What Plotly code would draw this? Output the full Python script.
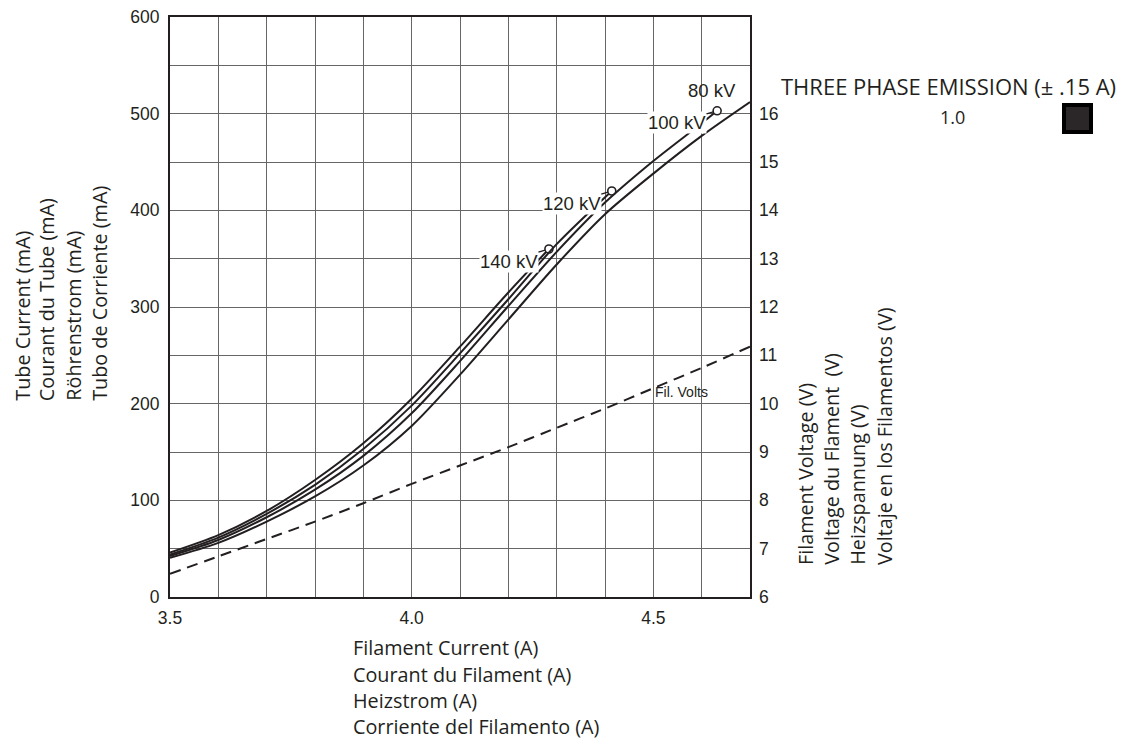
import plotly.graph_objects as go

# ---- data ----
x_140 = [3.5, 3.6, 3.7, 3.8, 3.9, 4.0, 4.1, 4.2, 4.284]
ma_140 = [46, 64, 89, 121, 159, 205, 259, 315, 360]

x_120 = [3.5, 3.6, 3.7, 3.8, 3.9, 4.0, 4.1, 4.2, 4.3, 4.414]
ma_120 = [44, 61.5, 86, 116, 153, 198, 252, 308, 365, 420]

x_100 = [3.5, 3.6, 3.7, 3.8, 3.9, 4.0, 4.1, 4.2, 4.3, 4.4, 4.5, 4.6, 4.632]
ma_100 = [42.5, 59, 82.5, 111, 146, 190, 244, 301, 357, 408, 451, 490, 503]

x_80 = [3.5, 3.6, 3.7, 3.8, 3.9, 4.0, 4.1, 4.2, 4.3, 4.4, 4.5, 4.6, 4.7]
ma_80 = [40.5, 56, 78, 104, 136, 177, 230, 287, 344, 396, 438, 477, 512]

x_volts = [3.5, 3.6, 3.7, 3.8, 3.9, 4.0, 4.1, 4.2, 4.3, 4.4, 4.5, 4.6, 4.7]
fil_volts = [6.48, 6.84, 7.2, 7.56, 7.94, 8.34, 8.72, 9.1, 9.5, 9.9, 10.32, 10.74, 11.18]

x_ticks = [3.5, 4.0, 4.5]
x_tick_text = ["3.5", "4.0", "4.5"]
y_ticks = [0, 100, 200, 300, 400, 500, 600]
y2_ticks = [6, 7, 8, 9, 10, 11, 12, 13, 14, 15, 16]

left_title = ["Tube Current (mA)", "Courant du Tube (mA)", "Röhrenstrom (mA)", "Tubo de Corriente (mA)"]
right_title = ["Filament Voltage (V)", "Voltage du Flament \u00a0(V)", "Heizspannung (V)", "Voltaje en los Filamentos (V)"]
bottom_title = ["Filament Current (A)", "Courant du Filament (A)", "Heizstrom (A)", "Corriente del Filamento (A)"]

INK = "#231f20"
GRID = "#666666"
TITLE_FONT = "Open Sans"
TICK_FONT = "Liberation Sans, Arial"
TITLE_SIZE = 19.8
TICK_SIZE = 17.5

fig = go.Figure()

curves = [(x_140, ma_140, True), (x_120, ma_120, True), (x_100, ma_100, True), (x_80, ma_80, False)]
for xs, ys, end_marker in curves:
    fig.add_trace(go.Scatter(x=xs, y=ys, mode="lines", line=dict(color=INK, width=2, shape="spline", smoothing=0.8),
                             showlegend=False, hoverinfo="skip"))
    if end_marker:
        fig.add_trace(go.Scatter(x=[xs[-1]], y=[ys[-1]], mode="markers",
                                 marker=dict(symbol="circle", size=8, color="white", line=dict(color=INK, width=1.6)),
                                 showlegend=False, hoverinfo="skip"))

fig.add_trace(go.Scatter(x=x_volts, y=fil_volts, yaxis="y2", mode="lines",
                         line=dict(color=INK, width=2, dash="11px,7px", shape="spline", smoothing=0.8),
                         showlegend=False, hoverinfo="skip"))

annotations = []
# kV labels with leader lines to end-circles
for txt, xs, ys in [("140 kV", x_140, ma_140), ("120 kV", x_120, ma_120), ("100 kV", x_100, ma_100)]:
    annotations.append(dict(x=xs[-1], y=ys[-1], xref="x", yref="y", text=txt, showarrow=True,
                            arrowhead=0, arrowwidth=1.2, arrowcolor=INK, ax=-40, ay=12, standoff=4,
                            bgcolor="white", borderpad=0,
                            font=dict(family=TICK_FONT, size=18.5, color=INK)))
annotations.append(dict(x=4.621, y=524, xref="x", yref="y", text="80 kV", showarrow=False,
                        font=dict(family=TICK_FONT, size=18.5, color=INK)))
annotations.append(dict(x=4.499, y=10.24, xref="x", yref="y2", text="Fil. Volts", showarrow=False,
                        xanchor="left", font=dict(family=TICK_FONT, size=14, color=INK)))

# axis titles as rotated stacked lines
left_x = [21.7, 46.7, 72.7, 99.3]
for t, px in zip(left_title, left_x):
    annotations.append(dict(x=(px - 170) / 580, y=(597 - 403) / 580, xref="paper", yref="paper", text=t,
                            textangle=-90, showarrow=False, xanchor="center", yanchor="bottom",
                            font=dict(family=TITLE_FONT, size=TITLE_SIZE, color=INK)))
right_x = [805, 830.7, 857.3, 884]
for t, px in zip(right_title, right_x):
    annotations.append(dict(x=(px - 170) / 580, y=(597 - 567) / 580, xref="paper", yref="paper", text=t,
                            textangle=-90, showarrow=False, xanchor="center", yanchor="bottom",
                            font=dict(family=TITLE_FONT, size=TITLE_SIZE, color=INK)))
bottom_y = [647, 674, 700.5, 727]
for t, py in zip(bottom_title, bottom_y):
    annotations.append(dict(x=(351 - 170) / 580, y=(597 - py) / 580, xref="paper", yref="paper", text=t,
                            showarrow=False, xanchor="left", yanchor="middle",
                            font=dict(family=TITLE_FONT, size=TITLE_SIZE, color=INK)))

# emission key
annotations.append(dict(x=(948 - 170) / 580, y=(597 - 86) / 580, xref="paper", yref="paper",
                        text="THREE PHASE EMISSION (± .15 A)", showarrow=False, xanchor="center", yanchor="middle",
                        font=dict(family=TITLE_FONT, size=22, color=INK)))
annotations.append(dict(x=(952.5 - 170) / 580, y=(597 - 117.5) / 580, xref="paper", yref="paper",
                        text="1.0", showarrow=False, xanchor="center", yanchor="middle",
                        font=dict(family=TITLE_FONT, size=18, color=INK)))

shapes = [dict(type="rect", xref="paper", yref="paper",
               x0=(1064 - 170) / 580, x1=(1091 - 170) / 580,
               y0=(597 - 132) / 580, y1=(597 - 105) / 580,
               line=dict(color="black", width=4), fillcolor="#2b2728")]

fig.update_layout(
    width=1134, height=738,
    margin=dict(l=162, r=392, t=9, b=149, autoexpand=False),
    paper_bgcolor="white", plot_bgcolor="white",
    showlegend=False,
    xaxis=dict(range=[3.5, 4.7], tickvals=x_ticks, ticktext=x_tick_text,
               showgrid=True, gridcolor=GRID, gridwidth=1,
               minor=dict(dtick=0.1, tick0=3.5, showgrid=True, gridcolor=GRID, gridwidth=1),
               showline=True, linecolor=INK, linewidth=2, mirror=True,
               ticks="", ticklabelstandoff=4, zeroline=False, ticklabeloverflow="allow",
               tickfont=dict(family=TICK_FONT, size=TICK_SIZE, color=INK)),
    yaxis=dict(range=[0, 600], tickvals=y_ticks,
               showgrid=True, gridcolor=GRID, gridwidth=1,
               minor=dict(dtick=50, tick0=0, showgrid=True, gridcolor=GRID, gridwidth=1),
               showline=True, linecolor=INK, linewidth=2, mirror=True,
               ticks="", ticklabelstandoff=5, zeroline=False, ticklabeloverflow="allow",
               tickfont=dict(family=TICK_FONT, size=TICK_SIZE, color=INK)),
    yaxis2=dict(range=[6, 18], tickvals=y2_ticks, overlaying="y", side="right",
                showgrid=False, showline=False, zeroline=False, ticks="", ticklabelstandoff=8,
                ticklabeloverflow="allow",
                tickfont=dict(family=TICK_FONT, size=TICK_SIZE, color=INK)),
    annotations=annotations,
    shapes=shapes,
)

fig.write_html("out.html")
